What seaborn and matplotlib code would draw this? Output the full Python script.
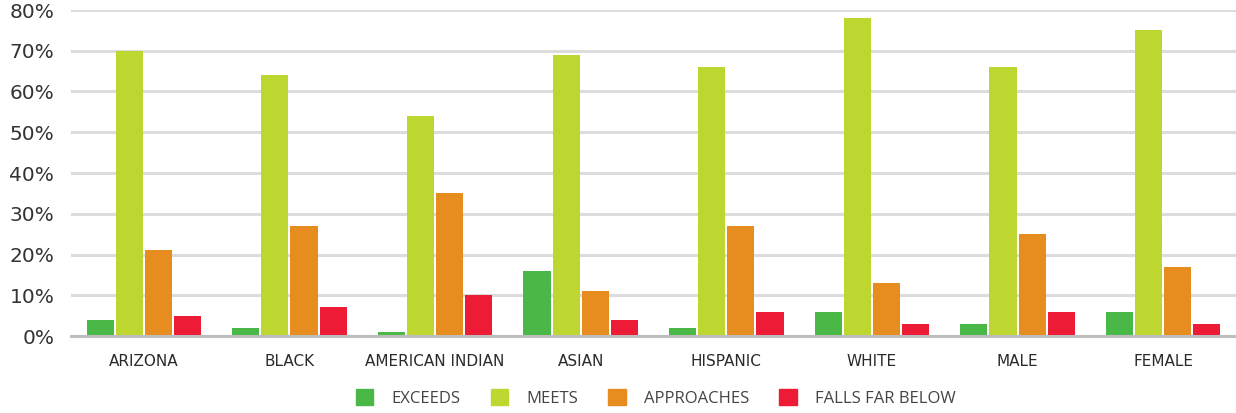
import matplotlib
matplotlib.use("Agg")
import matplotlib.pyplot as plt
import pandas as pd
import seaborn as sns
from matplotlib.ticker import FuncFormatter, MultipleLocator

# Share of students at each performance level, by group
groups = ["ARIZONA", "BLACK", "AMERICAN INDIAN", "ASIAN", "HISPANIC", "WHITE", "MALE", "FEMALE"]
levels = ["EXCEEDS", "MEETS", "APPROACHES", "FALLS FAR BELOW"]
exceeds = [4, 2, 1, 16, 2, 6, 3, 6]
meets = [70, 64, 54, 69, 66, 78, 66, 75]
approaches = [21, 27, 35, 11, 27, 13, 25, 17]
falls_far_below = [5, 7, 10, 4, 6, 3, 6, 3]
level_colors = ["#4ab847", "#bed630", "#e78c1e", "#ed1b35"]

rows = []
for level, values in zip(levels, [exceeds, meets, approaches, falls_far_below]):
    for g, v in zip(groups, values):
        rows.append({"group": g, "level": level, "share": v / 100})
df = pd.DataFrame(rows)

sns.set_theme(style="white")
plt.rcParams["font.family"] = ["DejaVu Sans"]

fig = plt.figure(figsize=(12.36, 4.13), dpi=100)
ax = fig.add_axes([71 / 1236, 1 - 336 / 413, 1 - 71 / 1236, (336 - 10) / 413])

sns.barplot(data=df, x="group", y="share", hue="level", order=groups,
            hue_order=levels, palette=level_colors, width=0.8, gap=0.07,
            saturation=1, ax=ax, legend=True, zorder=3, linewidth=0)

ax.set_ylim(0, 0.8)
ax.set_xlim(-0.5, len(groups) - 0.5)
ax.yaxis.set_major_locator(MultipleLocator(0.1))
ax.yaxis.set_major_formatter(FuncFormatter(lambda v, _: f"{v * 100:.0f}%"))
ax.grid(axis="y", color="#dcdcdc", linewidth=2.2, zorder=0)
ax.set_axisbelow(True)
for side in ["top", "right", "left"]:
    ax.spines[side].set_visible(False)
ax.spines["bottom"].set_color("#bdbdbd")
ax.spines["bottom"].set_linewidth(2.2)
ax.spines["bottom"].set_zorder(4)

ax.set_xlabel("")
ax.set_ylabel("")
ax.tick_params(axis="y", length=0, pad=12, labelsize=14.5, labelcolor="#333333")
ax.tick_params(axis="x", length=0, pad=13, labelsize=11, labelcolor="#2a2a2a")

ax.get_legend().remove()
handles = [plt.Rectangle((0, 0), 1, 1, color=c) for c in level_colors]
fig.legend(handles, levels, loc="center", bbox_to_anchor=(656 / 1236, 15 / 413),
           ncol=4, frameon=False, handlelength=1.05, handleheight=1.05,
           handletextpad=1.1, columnspacing=1.8, labelcolor="#444444",
           prop={"family": "Open Sans", "size": 12})

fig.savefig("out.png", dpi=100)
